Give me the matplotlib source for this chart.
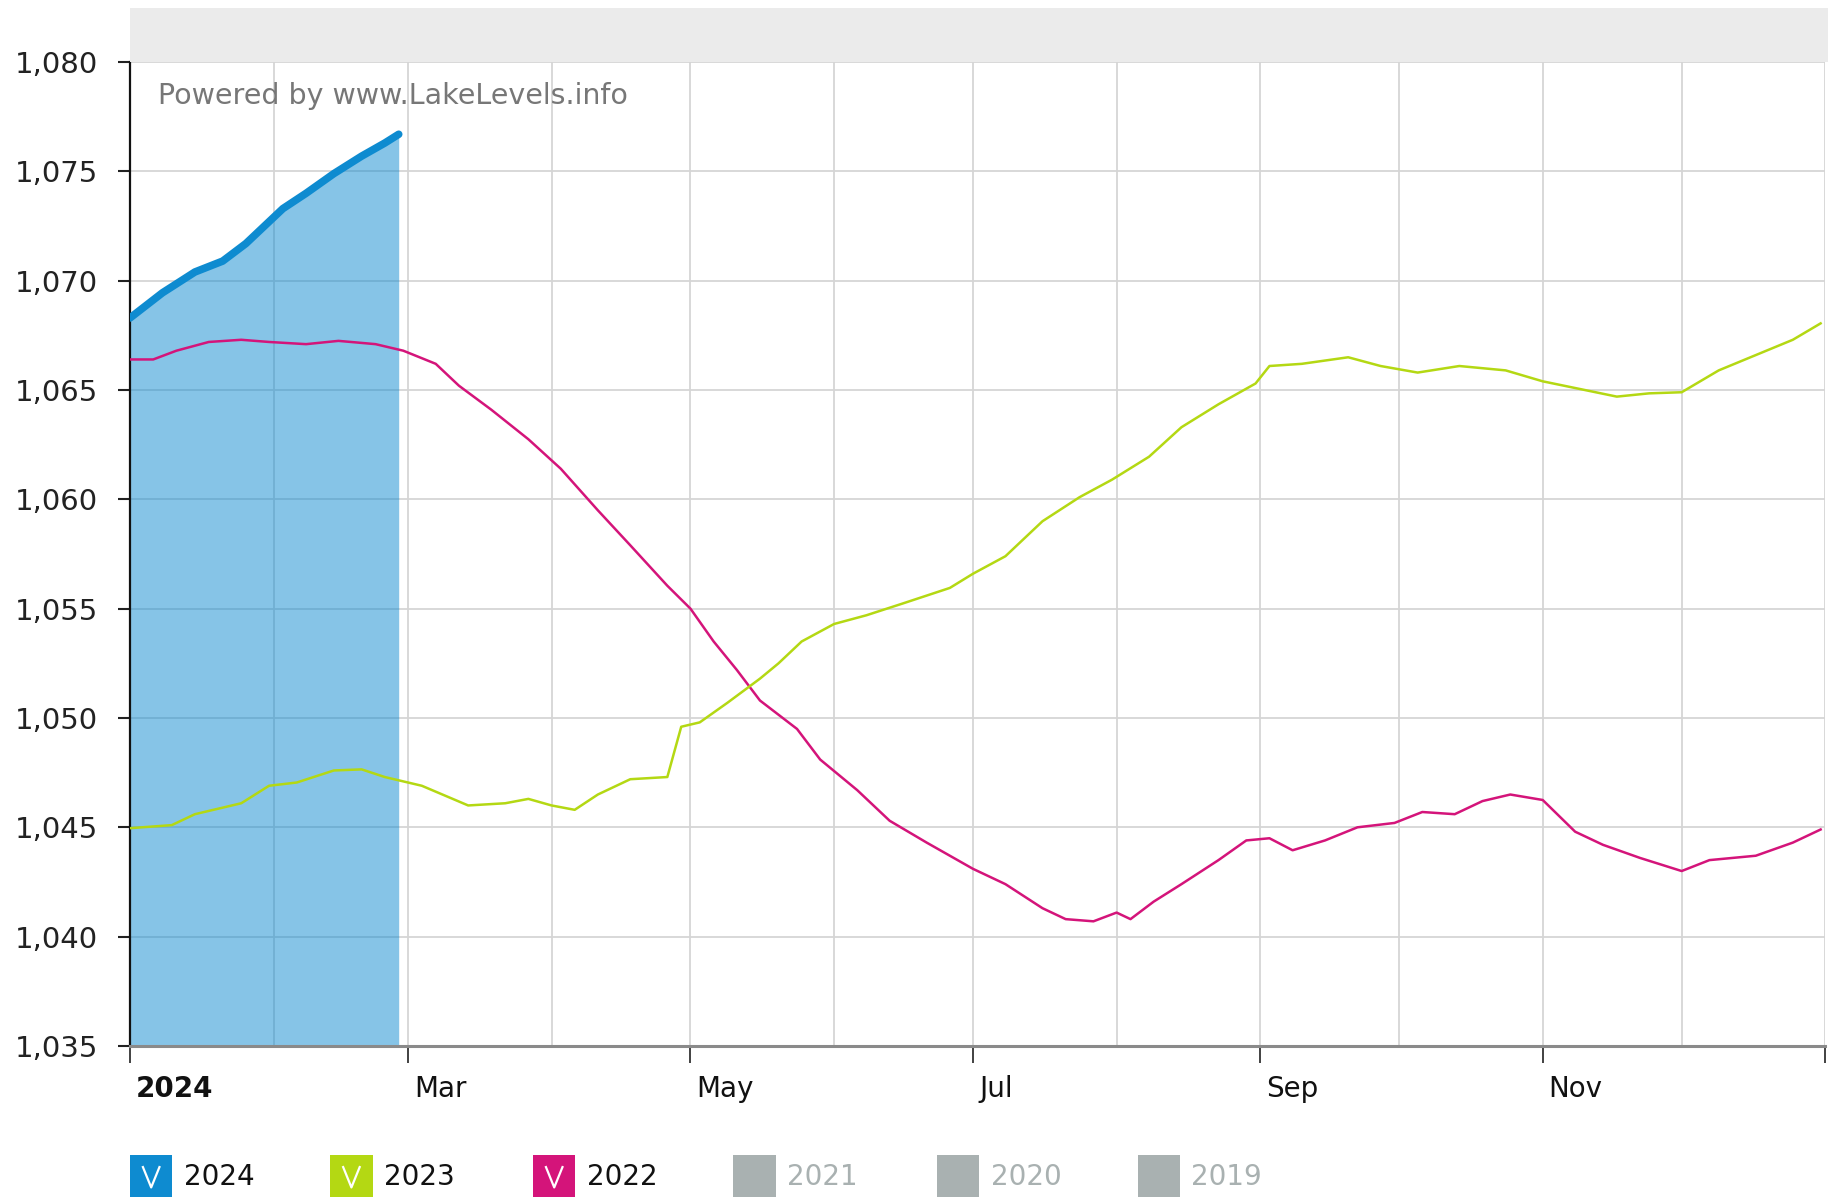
import numpy as np
import matplotlib
matplotlib.use("Agg")
import matplotlib.pyplot as plt
import matplotlib.transforms as mtransforms
from matplotlib.patches import Rectangle
from matplotlib.lines import Line2D
from matplotlib.ticker import StrMethodFormatter

plt.rcParams['font.family'] = ['DejaVu Sans']

# lake level (ft) by day of year
days_2024 = [0, 7, 14, 20, 25, 33, 38, 44, 50, 55, 58]
level_2024 = [1068.3, 1069.45, 1070.4, 1070.9, 1071.7, 1073.3, 1074.0, 1074.9, 1075.7, 1076.3, 1076.7]

days_2023 = [0, 9, 14, 24, 30, 36, 44, 50, 55, 63, 73, 81, 86, 91, 96, 101, 108, 116, 119,
             123, 129, 136, 140, 145, 152, 159, 167, 177, 182, 189, 197, 205, 212, 220, 227,
             235, 243, 246, 253, 263, 270, 278, 287, 297, 305, 313, 321, 328, 335, 343, 351,
             359, 365]
level_2023 = [1044.96, 1045.1, 1045.6, 1046.1, 1046.9, 1047.05, 1047.6, 1047.65, 1047.3, 1046.9,
              1046.0, 1046.1, 1046.3, 1046.0, 1045.8, 1046.5, 1047.2, 1047.3, 1049.6, 1049.8,
              1050.7, 1051.8, 1052.5, 1053.5, 1054.3, 1054.7, 1055.25, 1055.95, 1056.6, 1057.4,
              1059.0, 1060.1, 1060.9, 1061.95, 1063.3, 1064.35, 1065.3, 1066.1, 1066.2, 1066.5,
              1066.1, 1065.8, 1066.1, 1065.9, 1065.4, 1065.05, 1064.7, 1064.85, 1064.9, 1065.9,
              1066.6, 1067.3, 1068.05]

days_2022 = [0, 5, 10, 17, 24, 30, 38, 45, 53, 59, 66, 71, 78, 86, 93, 101, 108, 116, 121, 126,
             131, 136, 144, 149, 157, 164, 172, 182, 189, 197, 202, 208, 213, 216, 221, 227, 235,
             241, 246, 251, 258, 265, 273, 279, 286, 292, 298, 305, 312, 318, 326, 335, 341, 351,
             359, 365]
level_2022 = [1066.4, 1066.4, 1066.8, 1067.2, 1067.3, 1067.2, 1067.1, 1067.25, 1067.1, 1066.8,
              1066.2, 1065.2, 1064.1, 1062.75, 1061.4, 1059.5, 1057.9, 1056.05, 1055.0, 1053.5,
              1052.2, 1050.8, 1049.5, 1048.1, 1046.7, 1045.3, 1044.3, 1043.1, 1042.4, 1041.3,
              1040.8, 1040.7, 1041.1, 1040.8, 1041.6, 1042.4, 1043.5, 1044.4, 1044.5, 1043.95,
              1044.4, 1045.0, 1045.2, 1045.7, 1045.6, 1046.2, 1046.5, 1046.25, 1044.8, 1044.2,
              1043.6, 1043.0, 1043.5, 1043.7, 1044.3, 1044.9]

month_starts = [0, 31, 60, 91, 121, 152, 182, 213, 244, 274, 305, 335, 366]
label_days = [0, 60, 121, 182, 244, 305, 366]
label_text = ["2024", "Mar", "May", "Jul", "Sep", "Nov", ""]

legend_years = ["2024", "2023", "2022", "2021", "2020", "2019"]
legend_on = [True, True, True, False, False, False]

blue = "#0E8BD0"
green = "#B4D813"
pink = "#D4147A"
grey_box = "#A9B1B1"

fig = plt.figure(figsize=(18.37, 11.97), dpi=100)
ax = fig.add_axes([0.0708, 0.1262, 0.9228, 0.8219])

# grey band above the plot
fig.patches.append(Rectangle((0.0708, 0.948), 0.9242, 0.045, transform=fig.transFigure,
                             facecolor="#EBEBEB", edgecolor="none", zorder=0))

ax.set_xlim(0, 366)
ax.set_ylim(1035, 1080)
ax.set_yticks(np.arange(1035, 1081, 5))
ax.yaxis.set_major_formatter(StrMethodFormatter("{x:,.0f}"))

ax.set_xticks(label_days)
ax.set_xticklabels(label_text)
ax.set_xticks(month_starts, minor=True)
for lab in ax.get_xticklabels():
    lab.set_horizontalalignment("left")
ax.get_xticklabels()[0].set_fontweight("bold")

ax.grid(True, which="both", axis="x", color="#D5D5D5", lw=1.3, zorder=0)
ax.grid(True, which="major", axis="y", color="#D5D5D5", lw=1.3, zorder=0)
ax.set_axisbelow(True)

ax.tick_params(axis="y", length=9, width=1.5, labelsize=21, pad=14, colors="#222222")
ax.tick_params(axis="x", which="major", length=12, width=1.3, labelsize=20, pad=9,
               colors="#333333", labelcolor="#111111")
ax.tick_params(axis="x", which="minor", length=0)

ax.spines["top"].set_visible(False)
ax.spines["right"].set_visible(False)
ax.spines["left"].set_color("#111111")
ax.spines["left"].set_linewidth(1.6)
ax.spines["bottom"].set_color("#8A8A8A")
ax.spines["bottom"].set_linewidth(2.2)

ax.fill_between(days_2024, level_2024, 1035, color=blue, alpha=0.5, lw=0, zorder=2)
ax.plot(days_2022, level_2022, color=pink, lw=1.8, zorder=3)
ax.plot(days_2023, level_2023, color=green, lw=1.8, zorder=3)
ax.plot(days_2024, level_2024, color=blue, lw=5.5, zorder=4, solid_capstyle="round")

ax.text(0.0165, 0.966, "Powered by www.LakeLevels.info", transform=ax.transAxes,
        fontsize=20.5, color="#777777", va="center", ha="left")

# small offset so month labels start just right of their tick
offset = mtransforms.ScaledTranslation(6 / 100, 0, fig.dpi_scale_trans)
for lab in ax.get_xticklabels():
    lab.set_transform(lab.get_transform() + offset)

# legend row along the bottom
box_x = [0.0708, 0.1798, 0.2902, 0.3992, 0.5102, 0.6193]
for i in range(len(legend_years)):
    on = legend_on[i]
    col = [blue, green, pink, grey_box, grey_box, grey_box][i]
    x0 = box_x[i]
    fig.patches.append(Rectangle((x0, 0.0), 0.023, 0.035, transform=fig.transFigure,
                                 facecolor=col, edgecolor="none"))
    if on:
        fig.lines.append(Line2D([x0 + 0.007, x0 + 0.0115, x0 + 0.016],
                                [0.025, 0.008, 0.025], transform=fig.transFigure,
                                color="white", lw=1.6))
    fig.text(x0 + 0.0293, 0.0166, legend_years[i], fontsize=20, va="center", ha="left",
             color="#111111" if on else "#A9B1B1")

fig.savefig("out.png", dpi=100)
